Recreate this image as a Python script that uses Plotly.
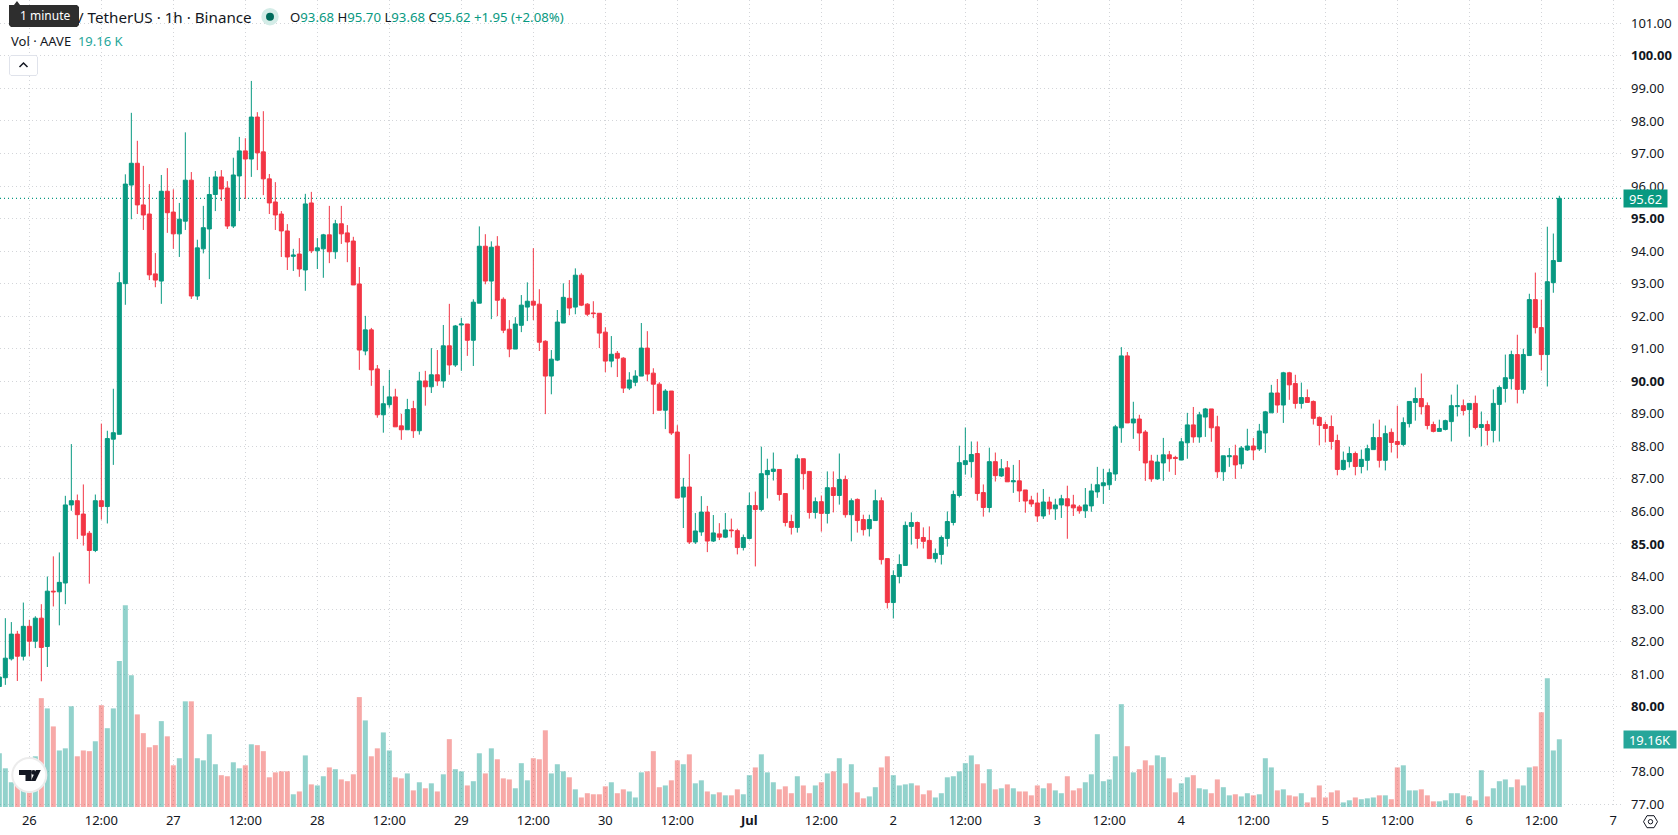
import pandas as pd
import plotly.graph_objects as go

START = "2024-06-25 19:00"

opens = [
    80.62, 80.89, 81.47, 82.23, 81.55, 82.47, 82.01, 82.72, 81.85, 83.55,
    83.53, 83.80, 86.20, 86.33, 85.92, 85.33, 84.80, 86.33, 86.15, 88.22,
    88.37, 93.00, 96.03, 96.70, 95.42, 95.14, 93.30, 93.08, 95.84, 95.20,
    94.53, 94.92, 96.18, 92.62, 94.07, 94.68, 95.74, 96.28, 95.94, 94.77,
    96.31, 97.08, 96.83, 98.12, 97.05, 96.22, 95.51, 95.14, 94.62, 93.84,
    93.91, 93.42, 95.48, 94.01, 94.07, 94.50, 93.98, 94.84, 94.56, 94.31,
    92.99, 90.93, 91.58, 90.38, 88.97, 89.28, 89.52, 88.63, 88.51, 89.16,
    88.48, 90.01, 89.83, 90.20, 90.01, 91.09, 90.50, 91.73, 91.76, 91.26,
    92.40, 94.15, 93.08, 94.15, 92.52, 91.60, 90.99, 91.72, 92.28, 92.46,
    92.37, 91.23, 90.16, 90.65, 91.79, 92.55, 92.28, 93.26, 92.37, 92.10,
    92.09, 91.51, 90.62, 90.86, 90.71, 89.79, 89.97, 90.16, 91.02, 90.25,
    89.91, 89.11, 89.70, 88.44, 86.44, 86.75, 85.06, 85.37, 85.98, 85.09,
    85.31, 85.21, 85.43, 85.41, 84.89, 85.17, 86.18, 86.06, 87.13, 87.23,
    87.29, 86.55, 85.69, 85.51, 87.62, 87.23, 85.97, 86.30, 85.94, 86.73,
    86.49, 86.98, 85.90, 86.37, 85.75, 85.47, 85.72, 86.33, 84.55, 83.20,
    84.00, 84.34, 85.54, 85.66, 85.20, 85.11, 84.55, 84.68, 85.17, 85.66,
    86.49, 87.44, 87.53, 87.78, 86.58, 86.12, 87.53, 87.09, 87.34, 86.91,
    86.94, 86.66, 86.35, 86.26, 85.86, 86.29, 86.08, 86.20, 86.39, 86.20,
    86.14, 86.02, 86.17, 86.60, 86.79, 86.82, 87.15, 88.57, 90.78, 88.72,
    88.84, 88.44, 87.55, 87.00, 87.49, 87.74, 87.66, 87.58, 88.11, 88.66,
    88.29, 88.90, 89.15, 88.60, 87.22, 87.68, 87.71, 87.46, 87.89, 88.01,
    87.92, 88.41, 89.03, 89.64, 89.27, 90.26, 89.93, 89.32, 89.50, 89.38,
    88.89, 88.67, 88.61, 88.18, 87.29, 87.53, 87.78, 87.38, 87.57, 87.90,
    88.27, 87.57, 88.43, 88.15, 88.06, 88.70, 89.35, 89.47, 89.25, 88.67,
    88.46, 88.52, 88.76, 89.22, 89.25, 89.13, 89.32, 88.58, 88.67, 88.49,
    89.29, 89.78, 90.08, 90.82, 89.75, 90.79, 92.51, 91.65, 90.82, 93.03,
    93.68,
]
highs = [
    81.10, 82.72, 82.60, 82.33, 83.20, 82.67, 82.78, 83.15, 84.00, 84.62,
    84.74, 86.48, 88.07, 86.52, 86.83, 85.40, 86.52, 88.70, 88.48, 89.77,
    93.35, 96.36, 98.25, 97.39, 96.62, 96.06, 93.94, 96.34, 96.55, 95.90,
    95.48, 97.65, 96.43, 94.35, 95.39, 96.28, 96.46, 96.49, 96.15, 96.87,
    97.51, 97.47, 99.23, 98.27, 98.30, 96.37, 96.12, 95.23, 94.83, 94.07,
    94.40, 95.76, 95.82, 94.40, 94.53, 95.39, 94.96, 95.39, 94.80, 94.44,
    93.51, 92.01, 91.64, 90.50, 89.86, 90.35, 89.77, 89.00, 89.46, 89.40,
    90.29, 90.32, 91.02, 90.96, 91.73, 92.38, 91.73, 91.95, 91.76, 92.52,
    94.76, 94.52, 94.30, 94.46, 92.58, 91.88, 91.97, 92.65, 93.04, 94.09,
    92.83, 91.26, 90.96, 92.19, 93.01, 93.11, 93.47, 93.32, 92.40, 92.46,
    92.09, 91.66, 91.39, 90.93, 90.74, 90.28, 90.34, 91.79, 91.54, 90.40,
    89.97, 89.76, 89.70, 88.65, 87.03, 87.76, 85.95, 86.47, 86.17, 85.89,
    85.64, 85.95, 85.78, 85.47, 85.29, 86.58, 86.61, 87.99, 87.62, 87.81,
    87.29, 86.55, 85.90, 87.75, 87.62, 87.23, 86.43, 86.49, 87.23, 87.23,
    87.78, 87.10, 86.40, 86.40, 85.90, 85.90, 86.67, 86.43, 84.55, 84.19,
    84.68, 85.69, 85.97, 85.69, 85.51, 85.54, 84.86, 85.26, 86.00, 86.64,
    88.02, 88.58, 88.15, 88.15, 86.83, 87.96, 87.81, 87.61, 87.55, 87.43,
    87.58, 86.66, 86.48, 86.57, 86.69, 86.45, 86.39, 86.51, 86.79, 86.51,
    86.20, 86.72, 86.85, 87.37, 87.31, 87.31, 88.66, 91.05, 90.90, 89.37,
    88.97, 88.50, 87.74, 87.74, 88.26, 87.86, 87.71, 88.26, 89.03, 89.21,
    89.06, 89.18, 89.15, 88.94, 87.71, 87.95, 88.05, 88.01, 88.54, 88.26,
    88.69, 89.09, 89.89, 90.07, 90.29, 90.29, 90.20, 89.96, 89.75, 89.41,
    88.92, 88.76, 88.95, 88.36, 87.84, 87.99, 87.84, 87.90, 88.05, 88.70,
    88.82, 88.64, 88.55, 89.25, 88.89, 89.38, 89.81, 90.24, 89.35, 88.76,
    88.82, 88.82, 89.59, 89.90, 89.44, 89.32, 89.56, 89.07, 88.79, 89.75,
    89.87, 90.82, 90.94, 91.43, 91.00, 92.69, 93.34, 92.51, 94.75, 94.54,
    95.70,
]
lows = [
    80.55, 80.67, 81.42, 80.79, 81.42, 81.55, 81.80, 80.78, 81.22, 83.08,
    82.50, 83.15, 86.02, 85.15, 84.95, 83.78, 84.75, 85.75, 85.63, 87.43,
    88.37, 92.35, 94.98, 95.14, 94.65, 93.11, 92.89, 92.38, 94.56, 94.07,
    93.82, 94.65, 92.53, 92.50, 93.93, 93.14, 95.23, 95.54, 94.68, 94.71,
    95.23, 95.60, 96.28, 96.49, 95.72, 95.14, 94.65, 93.82, 93.42, 93.39,
    93.21, 92.78, 93.94, 93.45, 93.18, 93.63, 93.76, 94.22, 93.66, 92.96,
    90.35, 90.80, 89.86, 88.88, 88.42, 89.19, 88.60, 88.20, 88.51, 88.26,
    88.36, 89.25, 89.64, 89.86, 89.80, 90.20, 90.44, 90.32, 90.78, 90.47,
    92.40, 92.98, 91.91, 92.00, 91.48, 90.74, 90.99, 91.51, 91.85, 91.88,
    90.93, 88.99, 89.60, 90.62, 91.79, 92.03, 92.06, 92.31, 92.00, 91.94,
    91.02, 90.28, 90.43, 90.13, 89.64, 89.73, 89.85, 90.16, 90.00, 88.99,
    89.11, 88.53, 88.35, 86.41, 85.49, 85.00, 85.00, 85.25, 84.75, 85.06,
    85.12, 85.18, 85.20, 84.68, 84.80, 85.14, 84.31, 86.00, 86.40, 86.95,
    86.33, 85.54, 85.29, 85.35, 86.67, 85.78, 85.78, 85.38, 85.63, 85.97,
    86.21, 85.81, 85.08, 85.35, 85.26, 85.23, 85.72, 84.37, 83.02, 82.71,
    83.79, 84.34, 84.98, 84.86, 84.86, 84.55, 84.43, 84.37, 84.92, 85.57,
    86.43, 87.13, 87.04, 86.33, 85.84, 85.97, 86.92, 87.06, 86.91, 86.57,
    86.29, 85.96, 86.14, 85.68, 85.77, 85.90, 85.74, 85.80, 85.16, 85.86,
    85.93, 85.80, 85.99, 86.42, 86.23, 86.66, 86.94, 88.11, 88.72, 88.23,
    87.86, 86.94, 86.91, 86.97, 86.94, 87.22, 87.12, 87.58, 87.62, 88.11,
    88.11, 88.29, 88.14, 87.03, 86.94, 87.37, 87.00, 87.31, 87.86, 87.58,
    87.86, 87.80, 89.03, 89.03, 88.72, 89.43, 89.16, 89.16, 89.35, 88.67,
    88.03, 88.12, 87.90, 87.11, 87.26, 87.35, 87.11, 87.17, 87.26, 87.90,
    87.35, 87.26, 87.81, 87.63, 88.00, 88.58, 88.79, 88.98, 88.52, 88.43,
    88.46, 88.49, 88.15, 88.92, 88.95, 88.30, 88.52, 88.00, 88.03, 88.12,
    88.15, 89.35, 89.75, 89.32, 89.62, 90.79, 91.47, 90.33, 89.84, 92.72,
    93.68,
]
closes = [
    80.91, 81.49, 82.23, 81.55, 82.47, 82.01, 82.72, 81.82, 83.55, 83.53,
    83.82, 86.20, 86.33, 85.90, 85.27, 84.80, 86.33, 86.15, 88.24, 88.42,
    93.03, 96.06, 96.70, 95.42, 95.11, 93.27, 93.11, 95.84, 95.18, 94.53,
    94.98, 96.18, 92.62, 94.10, 94.72, 95.74, 96.28, 95.91, 94.77, 96.34,
    97.08, 96.83, 98.12, 97.02, 96.22, 95.48, 95.11, 94.62, 93.82, 93.88,
    93.45, 95.45, 94.01, 94.10, 94.50, 93.98, 94.84, 94.53, 94.28, 92.96,
    90.96, 91.58, 90.35, 88.97, 89.31, 89.52, 88.60, 88.51, 89.13, 88.48,
    90.01, 89.83, 90.20, 90.01, 91.09, 90.50, 91.70, 91.76, 91.26, 92.43,
    94.15, 93.08, 94.12, 92.49, 91.57, 90.99, 91.76, 92.34, 92.46, 92.34,
    91.20, 90.16, 90.68, 91.82, 92.58, 92.25, 93.26, 92.34, 92.06, 92.08,
    91.48, 90.62, 90.83, 90.71, 89.79, 90.04, 90.16, 91.02, 90.22, 89.91,
    89.11, 89.70, 88.41, 86.41, 86.75, 85.06, 85.40, 85.98, 85.09, 85.34,
    85.21, 85.43, 85.41, 84.89, 85.20, 86.18, 86.06, 87.16, 87.26, 87.30,
    86.52, 85.66, 85.51, 87.62, 87.16, 85.97, 86.30, 85.94, 86.73, 86.49,
    86.98, 85.90, 86.33, 85.72, 85.44, 85.75, 86.33, 84.52, 83.20, 84.03,
    84.37, 85.57, 85.66, 85.17, 85.08, 84.55, 84.71, 85.20, 85.69, 86.52,
    87.50, 87.56, 87.75, 86.55, 86.12, 87.53, 87.10, 87.31, 86.91, 86.94,
    86.63, 86.32, 86.23, 85.86, 86.29, 86.08, 86.20, 86.39, 86.17, 86.11,
    86.02, 86.20, 86.63, 86.82, 86.88, 87.19, 88.60, 90.78, 88.72, 88.84,
    88.41, 87.49, 87.00, 87.52, 87.74, 87.62, 87.63, 88.14, 88.66, 88.29,
    88.97, 89.15, 88.57, 87.22, 87.71, 87.71, 87.43, 87.95, 88.01, 87.89,
    88.47, 89.06, 89.64, 89.27, 90.26, 89.89, 89.32, 89.50, 89.35, 88.86,
    88.64, 88.55, 88.15, 87.29, 87.57, 87.78, 87.38, 87.60, 87.93, 88.27,
    87.57, 88.39, 88.12, 88.06, 88.73, 89.38, 89.47, 89.22, 88.64, 88.46,
    88.55, 88.79, 89.25, 89.25, 89.10, 89.32, 88.58, 88.67, 88.49, 89.32,
    89.81, 90.11, 90.82, 89.75, 90.82, 92.51, 91.65, 90.82, 93.06, 93.71,
    95.62,
]
volumes_k = [
    15.2, 10.95, 7.0, 8.0, 9.0, 5.0, 14.35, 30.8, 27.9, 22.8,
    16.0, 16.6, 28.5, 14.35, 16.0, 15.8, 18.6, 28.8, 22.3, 27.9,
    41.3, 57.1, 37.3, 26.2, 20.9, 16.9, 17.5, 24.3, 20.0, 11.8,
    13.8, 29.9, 29.9, 13.8, 13.2, 20.6, 12.1, 9.0, 8.7, 12.65,
    10.95, 11.8, 17.75, 17.5, 15.8, 8.4, 9.8, 10.1, 10.1, 3.6,
    4.4, 14.6, 6.4, 6.1, 8.7, 11.2, 10.7, 7.8, 7.3, 9.25,
    31.1, 24.5, 14.35, 16.6, 21.1, 16.0, 8.4, 8.1, 9.5, 4.7,
    7.0, 5.3, 6.7, 4.4, 9.25, 19.2, 10.7, 10.1, 6.1, 7.3,
    15.2, 9.5, 16.6, 13.5, 8.1, 7.8, 5.3, 12.4, 7.55, 13.8,
    13.5, 21.7, 9.5, 12.1, 10.1, 8.4, 5.0, 2.7, 3.9, 3.6,
    3.6, 5.85, 7.0, 3.9, 5.0, 4.4, 2.7, 9.8, 10.1, 15.8,
    5.6, 6.1, 7.55, 13.2, 12.1, 14.9, 6.7, 7.55, 4.4, 3.6,
    4.15, 3.3, 3.3, 5.0, 3.6, 9.0, 11.2, 14.9, 9.8, 7.0,
    5.0, 5.85, 3.9, 8.7, 6.1, 3.9, 6.1, 7.0, 9.5, 10.1,
    13.8, 6.7, 12.1, 4.15, 2.45, 3.0, 5.6, 11.2, 14.35, 9.0,
    6.1, 6.4, 6.7, 6.1, 3.6, 4.7, 2.7, 3.9, 8.4, 8.7,
    10.1, 12.4, 14.6, 12.1, 6.7, 10.7, 5.0, 5.3, 6.4, 5.3,
    4.4, 4.4, 3.3, 6.1, 5.3, 6.7, 4.7, 3.9, 8.7, 4.7,
    5.3, 7.0, 9.25, 20.6, 7.3, 7.8, 14.35, 29.1, 17.2, 9.8,
    10.7, 13.2, 11.8, 14.6, 14.1, 8.1, 4.15, 6.7, 8.4, 9.0,
    5.3, 5.0, 3.9, 7.8, 5.6, 3.3, 3.6, 3.0, 3.9, 3.3,
    3.6, 13.8, 11.2, 4.7, 5.0, 3.3, 3.0, 3.9, 1.3, 2.7,
    6.1, 2.7, 4.15, 4.7, 1.3, 1.9, 2.7, 2.2, 2.45, 2.7,
    3.3, 3.3, 2.2, 11.2, 11.8, 4.7, 4.7, 5.0, 3.3, 1.6,
    1.6, 1.9, 3.9, 3.9, 3.3, 3.0, 1.9, 10.4, 3.0, 5.3,
    7.3, 7.8, 5.6, 7.8, 6.1, 11.2, 11.5, 26.8, 36.4, 16.0,
    19.16,
]

price_ticks = [101, 100, 99, 98, 97, 96, 95, 94, 93, 92, 91, 90, 89, 88, 87, 86, 85, 84, 83, 82, 81, 80, 78, 77]
time_ticks = [
    "2024-06-26 00:00", "2024-06-26 12:00", "2024-06-27 00:00", "2024-06-27 12:00",
    "2024-06-28 00:00", "2024-06-28 12:00", "2024-06-29 00:00", "2024-06-29 12:00",
    "2024-06-30 00:00", "2024-06-30 12:00", "2024-07-01 00:00", "2024-07-01 12:00",
    "2024-07-02 00:00", "2024-07-02 12:00", "2024-07-03 00:00", "2024-07-03 12:00",
    "2024-07-04 00:00", "2024-07-04 12:00", "2024-07-05 00:00", "2024-07-05 12:00",
    "2024-07-06 00:00", "2024-07-06 12:00", "2024-07-07 00:00",
]
time_labels = [
    "26", "12:00", "27", "12:00", "28", "12:00", "29", "12:00", "30", "12:00",
    "<b>Jul</b>", "12:00", "2", "12:00", "3", "12:00", "4", "12:00", "5", "12:00",
    "6", "12:00", "7",
]
last_price = closes[-1]
last_volume_k = volumes_k[-1]

UP = "#089981"
DOWN = "#F23645"
VOL_UP = "rgba(38,166,154,0.5)"
VOL_DOWN = "rgba(239,83,80,0.5)"
GRID = "#d3d5d9"
TEXT = "#131722"
FONT = "Noto Sans"

WIDTH, HEIGHT = 1678, 835
PLOT_W, PLOT_H = 1622, 807


def px(x):
    return x / PLOT_W


def py(y):
    return 1 - y / PLOT_H


def poly(points, close=True):
    head = " ".join(f"{'M' if i == 0 else 'L'}{px(x):.5f},{py(y):.5f}" for i, (x, y) in enumerate(points))
    return head + (" Z" if close else "")


def panel_shape(points, fill=None, line=None, width=1, close=True):
    return dict(
        type="path", xref="paper", yref="paper", path=poly(points, close),
        fillcolor=fill if fill else "rgba(0,0,0,0)",
        line=dict(color=line if line else "rgba(0,0,0,0)", width=width if line else 0),
        layer="above",
    )


def disc(cx, cy, r, fill, line=None, width=1):
    return dict(
        type="circle", xref="paper", yref="paper",
        x0=px(cx - r), x1=px(cx + r), y0=py(cy + r), y1=py(cy - r),
        fillcolor=fill, line=dict(color=line if line else "rgba(0,0,0,0)", width=width if line else 0),
        layer="above",
    )


def label(x, y, text, size=13, color=TEXT, anchor="left"):
    return dict(
        xref="paper", yref="paper", x=px(x), y=py(y), text=text, showarrow=False,
        xanchor=anchor, yanchor="middle", font=dict(family=FONT, size=size, color=color),
    )


times = pd.date_range(START, periods=len(closes), freq="h")
bar_colors = [VOL_UP if c >= o else VOL_DOWN for o, c in zip(opens, closes)]

fig = go.Figure()
fig.add_trace(go.Bar(
    x=times, y=volumes_k, marker=dict(color=bar_colors, line=dict(width=0)),
    yaxis="y", hoverinfo="skip", showlegend=False,
))
fig.add_trace(go.Candlestick(
    x=times, open=opens, high=highs, low=lows, close=closes, yaxis="y2",
    whiskerwidth=0, showlegend=False,
    increasing=dict(line=dict(color=UP, width=1), fillcolor=UP),
    decreasing=dict(line=dict(color=DOWN, width=1), fillcolor=DOWN),
))

shapes = [
    # last price line
    dict(type="line", xref="paper", x0=0, x1=1, yref="y2", y0=last_price, y1=last_price,
         line=dict(color=UP, width=1.2, dash="1px,3px"), layer="below"),
    # tooltip over the symbol title
    panel_shape([(9, 5), (14, 5), (17, 1), (20, 5), (77, 5), (79, 7), (79, 25), (77, 27),
                 (11, 27), (9, 25)], fill="#2e2e2e"),
    # collapse button
    panel_shape([(11, 55.5), (36, 55.5), (37.5, 57), (37.5, 74), (36, 75.5), (11, 75.5),
                 (9.5, 74), (9.5, 57)], fill="#ffffff", line="#e0e3eb"),
    panel_shape([(19.5, 67), (23.5, 63), (27.5, 67)], line=TEXT, width=1.5, close=False),
    # market status dot
    disc(270, 16.7, 8.7, "#d4ecE7"),
    disc(270, 16.7, 4, "#006B5B"),
    # logo badge
    disc(29.3, 775, 17, "#ffffff", line="#ececec", width=2),
    panel_shape([(19, 770), (31.5, 770), (31.5, 781), (25.5, 781), (25.5, 775), (19, 775)], fill="#131722"),
    disc(33.5, 772.4, 2.4, "#131722"),
    panel_shape([(35.5, 781), (30.8, 781), (36, 770), (40.8, 770)], fill="#131722"),
    # settings icon
    panel_shape([(1643.5, 821.7), (1647, 815.7), (1654, 815.7), (1657.5, 821.7), (1654, 827.7),
                 (1647, 827.7)], line=TEXT, width=1),
    disc(1650.5, 821.7, 2.2, "#ffffff", line=TEXT, width=1),
]

G = f'<span style="color:{UP}">'
annotations = [
    label(76, 16.5, "/ TetherUS · 1h · Binance", size=15.2),
    label(18, 16, "1 minute", size=12, color="#ffffff"),
    label(
        288, 16.5,
        f"O{G}93.68</span> H{G}95.70</span> L{G}93.68</span> C{G}95.62</span> {G}+1.95 (+2.08%)</span>",
        size=13.2,
    ),
    label(9, 41, 'Vol · AAVE  <span style="color:#26a69a">19.16 K</span>', size=13),
    # price and volume flags on the scale
    dict(xref="paper", x=1, xanchor="left", xshift=0.5, yref="y2", y=last_price, yanchor="middle",
         text=f"{last_price:.2f}", showarrow=False, bgcolor=UP, width=41, height=15,
         font=dict(family=FONT, size=13, color="#ffffff")),
    dict(xref="paper", x=1, xanchor="left", xshift=0.5, yref="y", y=last_volume_k, yanchor="middle",
         text=f"{last_volume_k:.2f}K", showarrow=False, bgcolor="#26a69a", width=50, height=15,
         font=dict(family=FONT, size=13, color="#ffffff")),
]

fig.update_layout(
    width=WIDTH, height=HEIGHT,
    margin=dict(l=0, r=WIDTH - PLOT_W, t=0, b=HEIGHT - PLOT_H, pad=0),
    paper_bgcolor="#ffffff", plot_bgcolor="#ffffff",
    font=dict(family=FONT, size=13, color=TEXT),
    bargap=1 / 6, boxgap=0.33, boxgroupgap=0,
    dragmode=False, showlegend=False,
    shapes=shapes, annotations=annotations,
    xaxis=dict(
        type="date", range=["2024-06-25 19:06:40", "2024-07-07 01:26:40"],
        rangeslider=dict(visible=False), tickmode="array", tickvals=time_ticks, ticktext=time_labels,
        showgrid=True, gridcolor=GRID, griddash="1px,3px", gridwidth=1,
        ticks="", ticklabelstandoff=4, showline=False, zeroline=False,
        tickfont=dict(family=FONT, size=13, color=TEXT),
    ),
    yaxis=dict(range=[0, 228.35], visible=False, showgrid=False, zeroline=False),
    yaxis2=dict(
        overlaying="y", side="right", range=[76.917, 101.717], tickmode="array",
        tickvals=price_ticks,
        ticktext=[f"<b>{v:.2f}</b>" if v % 5 == 0 else f"{v:.2f}" for v in price_ticks],
        showgrid=True, gridcolor=GRID, griddash="1px,3px", gridwidth=1,
        ticks="", ticklabelstandoff=8, showline=False, zeroline=False,
        tickfont=dict(family=FONT, size=13, color=TEXT),
    ),
)

fig.write_html("out.html", config=dict(displayModeBar=False))
